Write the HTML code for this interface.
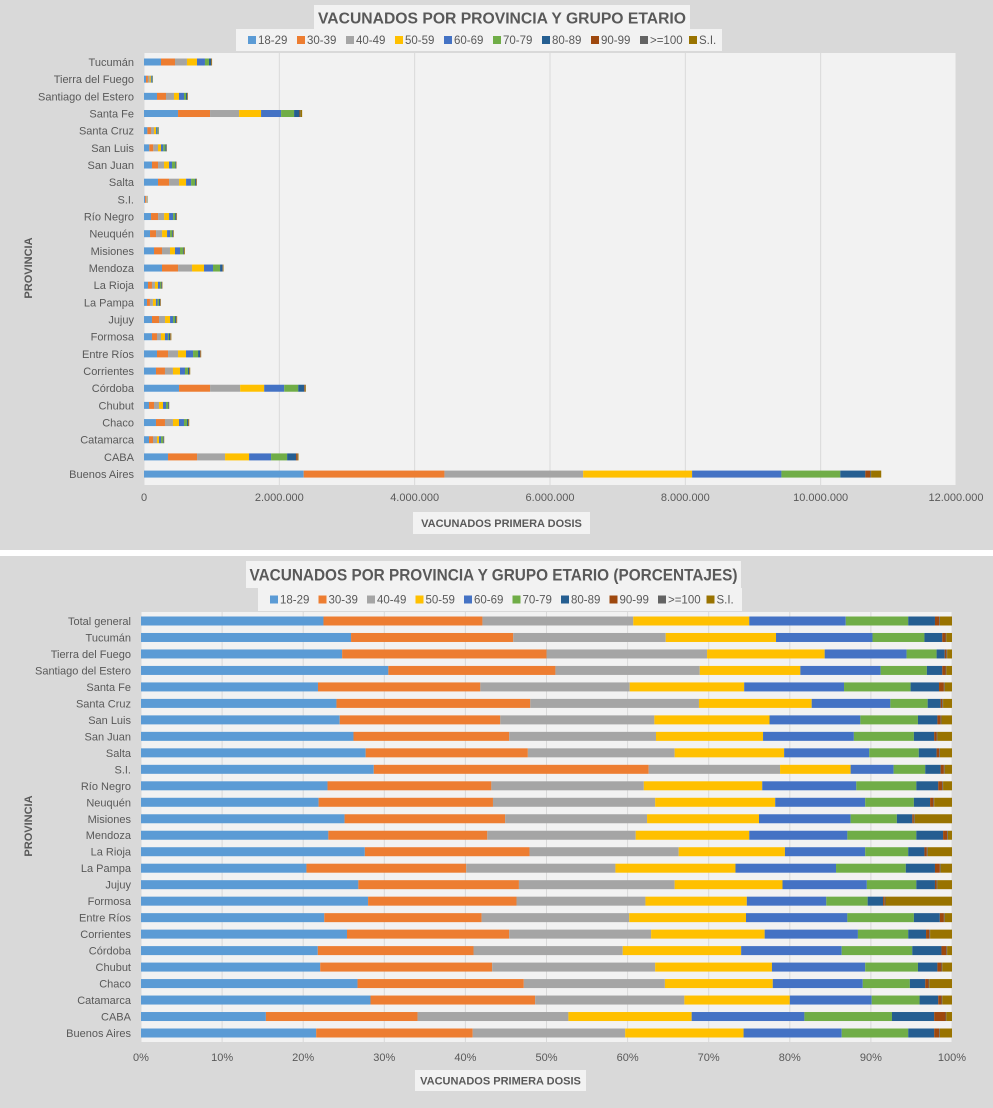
<!DOCTYPE html>
<html><head><meta charset="utf-8">
<style>
html,body{margin:0;padding:0;background:#d9d9d9;}
svg{display:block;font-family:"Liberation Sans Narrow","Liberation Sans",sans-serif;}
</style></head>
<body>
<svg id="chart" width="993" height="1108" viewBox="0 0 993 1108" xmlns="http://www.w3.org/2000/svg">
<rect x="0" y="0" width="993" height="1108" fill="#d9d9d9"/>
<rect x="0" y="550" width="993" height="6" fill="#ffffff"/>
<g id="top"></g>
<g id="bot"></g>
</svg>
<script>
const groups = ["18-29","30-39","40-49","50-59","60-69","70-79","80-89","90-99",">=100","S.I."];
const colors = ["#5b9bd5","#ed7d31","#a5a5a5","#ffc000","#4472c4","#70ad47","#255e91","#9e480e","#636363","#997300"];
const provinces = ["Tucumán","Tierra del Fuego","Santiago del Estero","Santa Fe","Santa Cruz","San Luis","San Juan","Salta","S.I.","Río Negro","Neuquén","Misiones","Mendoza","La Rioja","La Pampa","Jujuy","Formosa","Entre Ríos","Corrientes","Córdoba","Chubut","Chaco","Catamarca","CABA","Buenos Aires"];
const pctCategories = ["Total general"].concat(provinces);
// top chart: vaccinated (thousands)
const v18 = [251,30,192,503,50,79,118,207,16,104,89,148,266,59,44,118,118,192,177,518,74,177,74,355,2360];
const v30 = [207,28,133,473,53,59,89,163,18,104,89,118,237,59,44,104,74,163,133,459,74,133,59,429,2080];
const v40 = [177,25,118,429,45,69,89,148,9,89,89,118,207,44,44,89,59,148,118,444,74,118,59,414,2050];
const v50 = [148,18,74,325,30,44,74,104,5,74,74,74,177,44,44,74,59,118,104,355,59,89,30,355,1610];
const v60 = [118,15,74,296,20,35,44,74,3,59,44,74,133,30,25,44,44,104,74,296,44,74,30,325,1320];
const v70 = [59,8,30,192,12,30,49,59,2,30,30,44,104,15,20,30,15,74,44,207,30,44,30,237,870];
const v80 = [30,5,15,79,5,15,10,15,1,15,12,10,35,8,15,15,15,30,15,89,10,15,10,133,370];
const v90 = [5,1,5,10,1,3,3,5,0,5,3,3,5,3,5,5,5,8,5,10,3,5,3,20,70];
const v100 = [3,1,3,5,1,1,1,3,0,3,3,2,3,2,3,3,5,3,3,5,2,3,1,5,15];
const vSI = [8,2,5,25,3,3,5,5,1,5,8,12,8,8,5,8,10,5,10,10,3,10,3,10,150];
const topTicks = [0,2000,4000,6000,8000,10000,12000];
const topTickLabels = ["0","2.000.000","4.000.000","6.000.000","8.000.000","10.000.000","12.000.000"];
// bottom chart: percentages
const p18=[22.5,25.9,24.8,30.5,21.8,24.1,24.5,26.2,27.7,28.7,23.0,21.9,25.1,23.1,27.6,20.4,26.8,28.0,22.6,25.4,21.8,22.1,26.7,28.3,15.4,21.6];
const p30=[19.6,20.0,25.2,20.6,20.0,23.9,19.8,19.2,20.0,33.9,20.2,21.5,19.8,19.6,20.3,19.7,19.8,18.3,19.4,20.0,19.2,21.2,20.5,20.3,18.7,19.3];
const p40=[18.6,18.8,19.8,17.8,18.4,20.8,19.0,18.1,18.1,16.2,18.8,20.0,17.5,18.3,18.4,18.4,19.2,15.9,18.2,17.5,18.4,20.1,17.4,18.4,18.6,18.8];
const p50=[14.3,13.6,14.5,12.4,14.1,13.9,14.2,13.2,13.5,8.7,14.6,14.8,13.8,14.0,13.1,14.8,13.3,12.5,14.4,14.0,14.6,14.4,13.3,13.0,15.2,14.6];
const p60=[11.9,11.9,10.1,9.9,12.3,9.7,11.2,11.2,10.5,5.3,11.6,11.1,11.3,12.1,9.9,12.4,10.4,9.8,12.5,11.5,12.4,11.5,11.1,10.1,13.9,12.1];
const p70=[7.7,6.4,3.7,5.7,8.2,4.6,7.1,7.4,6.1,3.9,7.4,6.0,5.7,8.5,5.3,8.6,6.1,5.1,8.2,6.2,8.7,6.5,5.8,5.9,10.8,8.2];
const p80=[3.3,2.2,1.0,1.9,3.5,1.6,2.4,2.5,2.2,1.9,2.7,2.0,1.9,3.3,2.0,3.6,2.3,1.9,3.2,2.2,3.6,2.4,1.9,2.3,5.2,3.2];
const p90=[0.5,0.4,0.2,0.4,0.6,0.2,0.4,0.3,0.3,0.4,0.5,0.4,0.2,0.5,0.3,0.6,0.2,0.2,0.5,0.4,0.6,0.5,0.4,0.4,1.4,0.6];
const p100=[0.1,0.1,0.1,0.1,0.1,0.1,0.1,0.1,0.1,0.1,0.1,0.1,0.1,0.1,0.1,0.1,0.1,0.1,0.1,0.1,0.1,0.1,0.1,0.1,0.1,0.1];
const pSI=[1.5,0.7,0.6,0.7,0.9,1.1,1.3,1.8,1.5,0.9,1.1,2.2,4.6,0.5,3.0,1.4,1.8,8.2,0.9,2.7,0.6,1.2,2.8,1.2,0.7,1.5];
const pctTicks = [0,10,20,30,40,50,60,70,80,90,100];

const topSeries = [v18,v30,v40,v50,v60,v70,v80,v90,v100,vSI];
const botSeries = [p18,p30,p40,p50,p60,p70,p80,p90,p100,pSI];
const NS = "http://www.w3.org/2000/svg";
function mk(parent, tag, attrs, text){
  const e = document.createElementNS(NS, tag);
  for (const k in attrs) e.setAttribute(k, attrs[k]);
  if (text !== undefined) e.textContent = text;
  parent.appendChild(e);
  return e;
}

function drawChart(g, cfg){
  const {px0,px1,py0,py1,rowY0,rowStep,barH,max,series,cats,ticks,tickLabels,tickY,labelX,title,titleBox,titleLen,titleSize,legBox,legX0,legStep,axisBox,yTitleY,normalize} = cfg;
  const xs = v => px0 + (v/max)*(px1-px0);
  const ys = i => rowY0 + i*rowStep;
  const plot = mk(g,'rect',{x:px0,y:py0,width:px1-px0,height:py1-py0,fill:'#f2f2f2'});
  
  
  ticks.forEach((t,i)=>{
    const gl = mk(g,'line',{x1:xs(t),x2:xs(t),y1:py0,y2:py1,stroke:'#d9d9d9','stroke-width':1});
    
    
    const tl = mk(g,'text',{x:xs(t),y:tickY,'text-anchor':'middle','font-size':11,fill:'#595959'},tickLabels[i]);
    
    
  });
  cats.forEach((c,i)=>{
    const lb = mk(g,'text',{x:labelX,y:ys(i)+4,'text-anchor':'end','font-size':11,fill:'#595959'},c);
    
    
    let tot = 0;
    if (normalize) series.forEach(s=>tot+=s[i]); else tot = 1;
    let acc = 0;
    series.forEach((s,k)=>{
      const v = normalize ? s[i]/tot*100 : s[i];
      const x = xs(acc), w = xs(acc+v)-x;
      acc += v;
      if (w<=0) return;
      const r = mk(g,'rect',{x:x,y:ys(i)-barH/2,width:w,height:barH,fill:colors[k]});
      
      
    });
  });
  const tb = mk(g,'rect',{x:titleBox[0],y:titleBox[1],width:titleBox[2],height:titleBox[3],fill:'#f2f2f2'});
  
  
  const tt = mk(g,'text',{x:titleBox[0]+titleBox[2]/2,y:titleBox[1]+titleBox[3]/2+titleSize*0.36,'text-anchor':'middle','font-size':titleSize,'font-weight':'bold',fill:'#595959',textLength:titleLen,lengthAdjust:'spacingAndGlyphs'},title);
  
  
  const lbx = mk(g,'rect',{x:legBox[0],y:legBox[1],width:legBox[2],height:legBox[3],fill:'#f2f2f2'});
  
  
  groups.forEach((gname,k)=>{
    const lx = legX0 + k*legStep, ly = legBox[1]+legBox[3]/2;
    const sw = mk(g,'rect',{x:lx,y:ly-4,width:8,height:8,fill:colors[k]});
    
    
    const lt = mk(g,'text',{x:lx+10,y:ly+4,'font-size':11.5,fill:'#595959'},gname);
    
    
  });
  const ab = mk(g,'rect',{x:axisBox[0],y:axisBox[1],width:axisBox[2],height:axisBox[3],fill:'#f2f2f2'});
  
  
  const at = mk(g,'text',{x:axisBox[0]+axisBox[2]/2,y:axisBox[1]+axisBox[3]/2+4,'text-anchor':'middle','font-size':11,'font-weight':'bold',fill:'#595959'},'VACUNADOS PRIMERA  DOSIS');
  
  
  const yt = mk(g,'text',{x:0,y:0,'text-anchor':'middle','font-size':11,'font-weight':'bold',fill:'#595959',transform:`translate(32,${yTitleY}) rotate(-90)`},'PROVINCIA');
  
  
}

drawChart(document.getElementById('top'),{
  px0:144,px1:956,py0:53,py1:485,rowY0:62,rowStep:17.17,barH:7,max:12000,
  series:topSeries,cats:provinces,ticks:topTicks,tickLabels:topTickLabels,tickY:501,labelX:134,
  title:'VACUNADOS POR PROVINCIA Y GRUPO ETARIO',titleBox:[314,5,376,25],titleLen:368,titleSize:16,
  legBox:[236,29,486,22],legX0:248,legStep:49,axisBox:[413,512,177,22],yTitleY:268,normalize:false
});
drawChart(document.getElementById('bot'),{
  px0:141,px1:952,py0:612,py1:1042,rowY0:621,rowStep:16.48,barH:9,max:100,
  series:botSeries,cats:pctCategories,ticks:pctTicks,tickLabels:pctTicks.map(t=>t+'%'),tickY:1061,labelX:131,
  title:'VACUNADOS POR PROVINCIA Y GRUPO ETARIO (PORCENTAJES)',titleBox:[246,561,495,27],titleLen:488,titleSize:17,
  legBox:[258,588,484,23],legX0:270,legStep:48.5,axisBox:[415,1070,171,21],yTitleY:826,normalize:true
});
</script>
</body></html>
